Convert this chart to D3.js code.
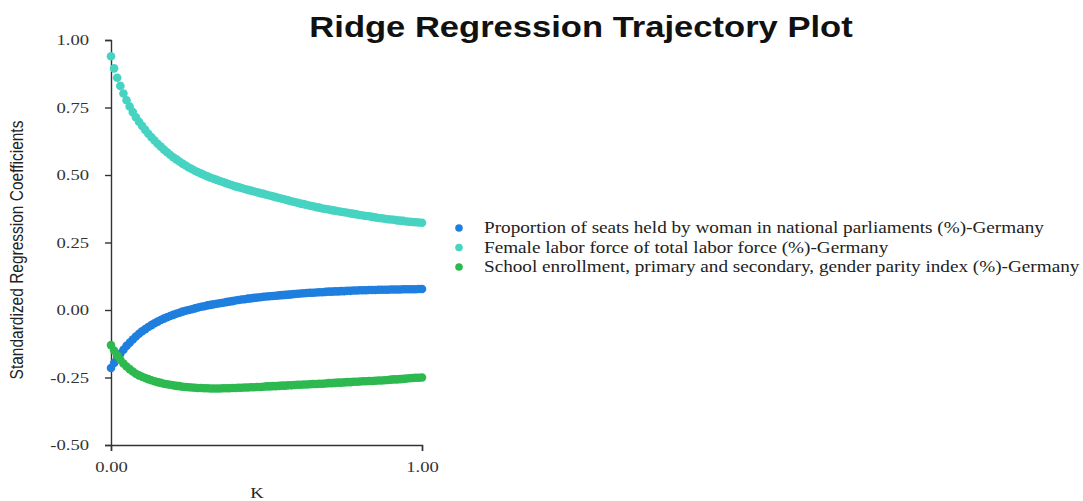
<!DOCTYPE html>
<html>
<head>
<meta charset="utf-8">
<title>Ridge Regression Trajectory Plot</title>
<script src="https://cdnjs.cloudflare.com/ajax/libs/d3/7.8.5/d3.min.js"></script>
<style>
    html, body {
        margin: 0;
        padding: 0;
        background: #ffffff;
    }

    svg {
        display: block;
    }

    .axis .tick text {
        font-family: 'Liberation Serif', 'Times New Roman', serif;
        font-size: 15.5px;
        fill: #333333;
    }

    .axis .domain,
    .axis .tick line {
        stroke: #333333;
        stroke-width: 1.4;
    }
</style>
</head>
<body>
<div id="chart"></div>
<script>
    // ridge parameter K
    const kValues = [
        0.00, 0.01, 0.02, 0.03, 0.04, 0.05, 0.06, 0.07, 0.08, 0.09,
        0.10, 0.11, 0.12, 0.13, 0.14, 0.15, 0.16, 0.17, 0.18, 0.19,
        0.20, 0.21, 0.22, 0.23, 0.24, 0.25, 0.26, 0.27, 0.28, 0.29,
        0.30, 0.31, 0.32, 0.33, 0.34, 0.35, 0.36, 0.37, 0.38, 0.39,
        0.40, 0.41, 0.42, 0.43, 0.44, 0.45, 0.46, 0.47, 0.48, 0.49,
        0.50, 0.51, 0.52, 0.53, 0.54, 0.55, 0.56, 0.57, 0.58, 0.59,
        0.60, 0.61, 0.62, 0.63, 0.64, 0.65, 0.66, 0.67, 0.68, 0.69,
        0.70, 0.71, 0.72, 0.73, 0.74, 0.75, 0.76, 0.77, 0.78, 0.79,
        0.80, 0.81, 0.82, 0.83, 0.84, 0.85, 0.86, 0.87, 0.88, 0.89,
        0.90, 0.91, 0.92, 0.93, 0.94, 0.95, 0.96, 0.97, 0.98, 0.99,
        1.00
    ];

    const seatsWomen = [
        -0.215, -0.196, -0.178, -0.162, -0.147, -0.133, -0.121, -0.109, -0.098, -0.088,
        -0.079, -0.071, -0.063, -0.056, -0.049, -0.043, -0.037, -0.032, -0.027, -0.022,
        -0.018, -0.014, -0.010, -0.006, -0.003, 0.000, 0.003, 0.006, 0.009, 0.012,
        0.014, 0.017, 0.019, 0.021, 0.023, 0.025, 0.027, 0.029, 0.031, 0.033,
        0.035, 0.037, 0.039, 0.040, 0.042, 0.043, 0.045, 0.046, 0.047, 0.049,
        0.050, 0.051, 0.052, 0.053, 0.054, 0.055, 0.056, 0.057, 0.058, 0.059,
        0.060, 0.061, 0.062, 0.063, 0.064, 0.064, 0.065, 0.066, 0.066, 0.067,
        0.068, 0.068, 0.069, 0.069, 0.070, 0.070, 0.071, 0.071, 0.072, 0.072,
        0.073, 0.073, 0.073, 0.074, 0.074, 0.074, 0.075, 0.075, 0.075, 0.075,
        0.076, 0.076, 0.076, 0.076, 0.077, 0.077, 0.077, 0.077, 0.077, 0.078,
        0.078
    ];

    const femaleLabor = [
        0.940, 0.895, 0.860, 0.830, 0.802, 0.777, 0.754, 0.733, 0.714, 0.697,
        0.682, 0.667, 0.653, 0.640, 0.628, 0.616, 0.605, 0.594, 0.584, 0.575,
        0.566, 0.558, 0.550, 0.542, 0.535, 0.528, 0.522, 0.516, 0.510, 0.505,
        0.500, 0.495, 0.490, 0.486, 0.482, 0.478, 0.474, 0.470, 0.466, 0.462,
        0.458, 0.455, 0.452, 0.448, 0.445, 0.442, 0.439, 0.436, 0.433, 0.430,
        0.427, 0.424, 0.421, 0.418, 0.415, 0.412, 0.409, 0.406, 0.403, 0.400,
        0.397, 0.394, 0.392, 0.389, 0.386, 0.384, 0.381, 0.379, 0.376, 0.374,
        0.372, 0.370, 0.368, 0.366, 0.364, 0.362, 0.360, 0.358, 0.356, 0.354,
        0.352, 0.350, 0.348, 0.347, 0.345, 0.343, 0.341, 0.340, 0.338, 0.336,
        0.335, 0.334, 0.332, 0.331, 0.330, 0.328, 0.327, 0.326, 0.325, 0.324,
        0.323
    ];

    const schoolParity = [
        -0.130, -0.150, -0.168, -0.184, -0.198, -0.209, -0.219, -0.228, -0.236, -0.242,
        -0.247, -0.252, -0.256, -0.260, -0.264, -0.267, -0.270, -0.273, -0.275, -0.277,
        -0.279, -0.281, -0.282, -0.284, -0.285, -0.286, -0.287, -0.288, -0.289, -0.289,
        -0.290, -0.290, -0.291, -0.291, -0.291, -0.291, -0.290, -0.290, -0.290, -0.289,
        -0.289, -0.288, -0.288, -0.287, -0.287, -0.286, -0.286, -0.285, -0.285, -0.284,
        -0.283, -0.283, -0.282, -0.282, -0.281, -0.280, -0.280, -0.279, -0.279, -0.278,
        -0.277, -0.277, -0.276, -0.276, -0.275, -0.274, -0.274, -0.273, -0.273, -0.272,
        -0.271, -0.271, -0.270, -0.269, -0.269, -0.268, -0.267, -0.267, -0.266, -0.266,
        -0.265, -0.264, -0.264, -0.263, -0.263, -0.262, -0.261, -0.261, -0.260, -0.259,
        -0.258, -0.257, -0.257, -0.256, -0.255, -0.254, -0.253, -0.252, -0.251, -0.251,
        -0.250
    ];

    const seriesNames = [
        'Proportion of seats held by woman in national parliaments (%)-Germany',
        'Female labor force of total labor force (%)-Germany',
        'School enrollment, primary and secondary, gender parity index (%)-Germany'
    ];
    const seriesColors = ['#1f7fdf', '#47d3c2', '#2db950'];

    const yTicks = [-0.50, -0.25, 0.00, 0.25, 0.50, 0.75, 1.00];
    const xTicks = [0.00, 1.00];

    const width = 1083;
    const height = 501;
    const stretch = 1.2; // the reference text is drawn a bit wide

    const svg = d3.select('#chart')
        .append('svg')
        .attr('width', width)
        .attr('height', height);

    const xScale = d3.scaleLinear().domain([0, 1]).range([111, 422]);
    const yScale = d3.scaleLinear().domain([-0.5, 1]).range([445, 40]);

    // plain hyphen for negatives, like the original
    const fmt = (d) => d.toFixed(2);

    // axes
    const yAxis = d3.axisLeft(yScale)
        .tickValues(yTicks)
        .tickSize(6)
        .tickFormat(fmt);

    const yAxisG = svg.append('g')
        .attr('class', 'axis')
        .attr('transform', `translate(${xScale(0)},0)`)
        .call(yAxis);

    yAxisG.selectAll('.tick text')
        .attr('x', -22 / stretch)
        .attr('transform', `scale(${stretch},1)`);

    const xAxis = d3.axisBottom(xScale)
        .tickValues(xTicks)
        .tickSize(6)
        .tickFormat(fmt);

    const xAxisG = svg.append('g')
        .attr('class', 'axis')
        .attr('transform', `translate(0,${yScale(-0.5)})`)
        .call(xAxis);

    xAxisG.selectAll('.tick text')
        .attr('y', 27)
        .attr('dy', 0)
        .attr('transform', `scale(${stretch},1)`);

    // dots, blue first so green sits on top where they cross
    const seriesValues = [seatsWomen, femaleLabor, schoolParity];

    seriesValues.forEach((values, s) => {
        svg.append('g')
            .selectAll('circle')
            .data(values)
            .enter()
            .append('circle')
            .attr('cx', (d, i) => xScale(kValues[i]))
            .attr('cy', (d) => yScale(d))
            .attr('r', 4.3)
            .attr('fill', seriesColors[s]);
    });

    // axis titles
    svg.append('text')
        .attr('transform', `translate(257,498) scale(${stretch},1)`)
        .attr('text-anchor', 'middle')
        .style('font-family', "'Liberation Serif', serif")
        .style('font-size', '15.5px')
        .style('fill', '#222')
        .text('K');

    svg.append('text')
        .attr('transform', 'translate(23,250) rotate(-90) scale(1,1.15)')
        .attr('text-anchor', 'middle')
        .style('font-family', "'Liberation Sans', Arial, sans-serif")
        .style('font-size', '15.5px')
        .style('fill', '#222')
        .text('Standardized Regression Coefficients');

    // title
    svg.append('text')
        .attr('transform', `translate(581,37) scale(${stretch},1)`)
        .attr('text-anchor', 'middle')
        .style('font-family', "'Liberation Sans', Arial, sans-serif")
        .style('font-weight', 'bold')
        .style('font-size', '28.8px')
        .style('fill', '#111')
        .text('Ridge Regression Trajectory Plot');

    // legend
    const legendRows = [228, 247.5, 267];

    const legend = svg.append('g')
        .selectAll('g')
        .data(seriesNames)
        .enter()
        .append('g')
        .attr('transform', (d, i) => `translate(459,${legendRows[i]})`);

    legend.append('circle')
        .attr('r', 3.8)
        .attr('fill', (d, i) => seriesColors[i]);

    legend.append('text')
        .attr('transform', `translate(25,0) scale(${stretch},1)`)
        .attr('dy', '0.32em')
        .style('font-family', "'Liberation Serif', serif")
        .style('font-size', '16px')
        .style('fill', '#222')
        .text((d) => d);
</script>
</body>
</html>
